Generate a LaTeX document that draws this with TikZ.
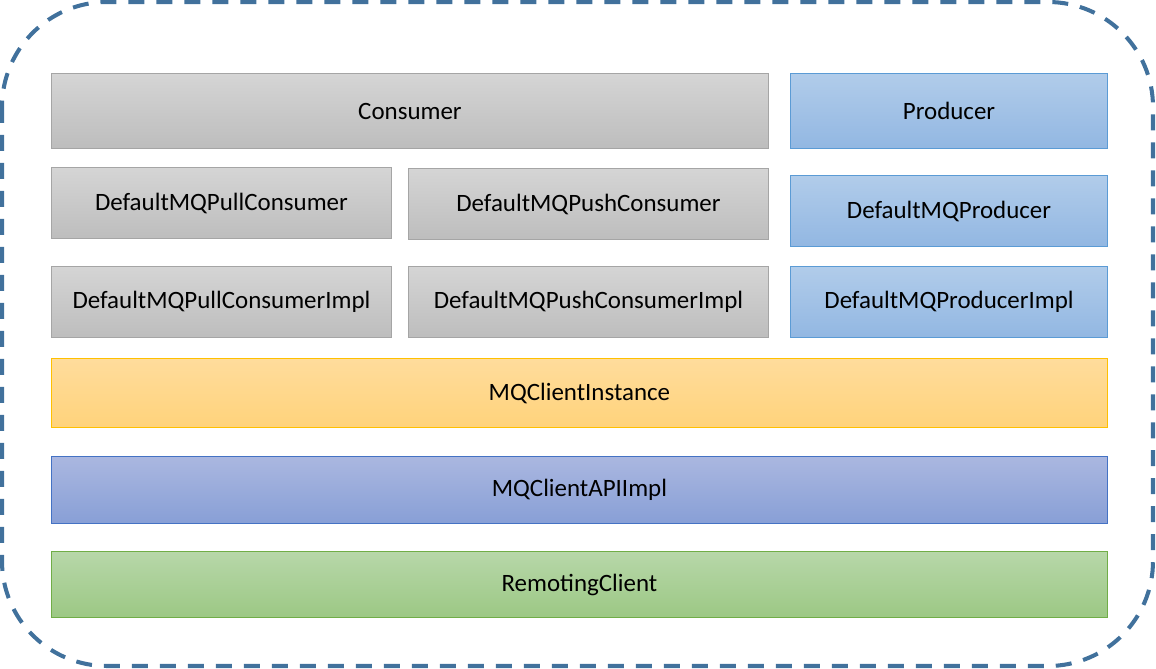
\documentclass[tikz,border=0pt]{standalone}
\usepackage{fontspec}
\setmainfont{Carlito}
\usetikzlibrary{positioning}

\definecolor{outerblue}{HTML}{41719C}
\definecolor{grayline}{HTML}{A5A5A5}
\definecolor{graytop}{HTML}{D5D5D5}
\definecolor{graybot}{HTML}{BDBDBD}
\definecolor{prodline}{HTML}{5B9BD5}
\definecolor{prodtop}{HTML}{B1CCEA}
\definecolor{prodbot}{HTML}{92B7E2}
\definecolor{instline}{HTML}{FFC000}
\definecolor{insttop}{HTML}{FFDC9C}
\definecolor{instbot}{HTML}{FFD37B}
\definecolor{apiline}{HTML}{4472C4}
\definecolor{apitop}{HTML}{AAB7E0}
\definecolor{apibot}{HTML}{889FD6}
\definecolor{remline}{HTML}{70AD47}
\definecolor{remtop}{HTML}{B7D7A9}
\definecolor{rembot}{HTML}{9CC884}

\tikzset{
	layer/.style={rectangle, anchor=north west, inner sep=0pt, line width=0.6pt,
		font=\fontsize{14.2}{17}\selectfont},
	conslayer/.style={layer, draw=grayline, top color=graytop, bottom color=graybot},
	prodlayer/.style={layer, draw=prodline, top color=prodtop, bottom color=prodbot},
	instlayer/.style={layer, draw=instline, top color=insttop, bottom color=instbot},
	apilayer/.style={layer, draw=apiline, top color=apitop, bottom color=apibot},
	remlayer/.style={layer, draw=remline, top color=remtop, bottom color=rembot}
}

\begin{document}
\begin{tikzpicture}[x=0.02cm, y=-0.02cm]
	\useasboundingbox (0,0) rectangle (1156,669);

	% client boundary
	\draw[outerblue, line width=2.3pt, dash pattern=on 0.32cm off 0.24cm, rounded corners=2.1cm]
		(2,2) rectangle (1153,666);

	\begin{scope}
		\node[conslayer, minimum width=14.34cm, minimum height=1.5cm]  (cons)     at (51,73)  {Consumer};
		\node[prodlayer, minimum width=6.34cm, minimum height=1.5cm]   (prod)     at (790,73) {Producer};

		\node[conslayer, minimum width=6.8cm, minimum height=1.42cm]   (pullcons) at (51,167)  {DefaultMQPullConsumer};
		\node[conslayer, minimum width=7.2cm, minimum height=1.42cm]   (pushcons) at (408,168) {DefaultMQPushConsumer};
		\node[prodlayer, minimum width=6.34cm, minimum height=1.42cm]  (defprod)  at (790,175) {DefaultMQProducer};

		\node[conslayer, minimum width=6.8cm, minimum height=1.42cm]   (pullimpl) at (51,266)  {DefaultMQPullConsumerImpl};
		\node[conslayer, minimum width=7.2cm, minimum height=1.42cm]   (pushimpl) at (408,266) {DefaultMQPushConsumerImpl};
		\node[prodlayer, minimum width=6.34cm, minimum height=1.42cm]  (prodimpl) at (790,266) {DefaultMQProducerImpl};

		\node[instlayer, minimum width=21.12cm, minimum height=1.38cm] (instance) at (51,358) {MQClientInstance};
		\node[apilayer, minimum width=21.12cm, minimum height=1.34cm]  (apiimpl)  at (51,456) {MQClientAPIImpl};
		\node[remlayer, minimum width=21.12cm, minimum height=1.32cm]  (remoting) at (51,551) {RemotingClient};
	\end{scope}
\end{tikzpicture}
\end{document}
